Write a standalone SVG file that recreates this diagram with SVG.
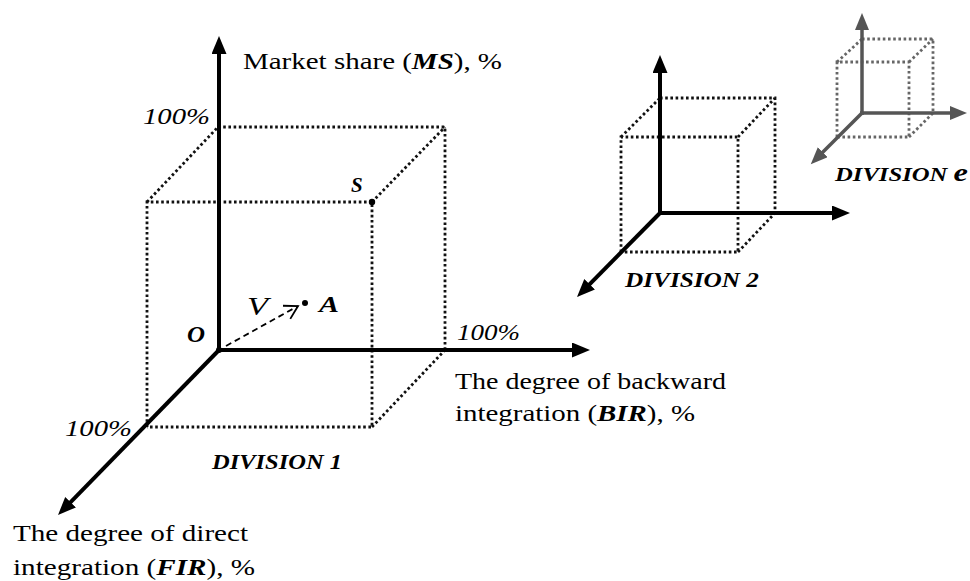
<svg xmlns="http://www.w3.org/2000/svg" width="970" height="581" viewBox="0 0 970 581">
<style>
text{font-family:'Liberation Serif',Tinos,'Times New Roman',Times,serif;fill:#000}
.t{font-size:24px}
.i{font-style:italic}
.bi{font-style:italic;font-weight:bold}
.div{font-size:22px;font-style:italic;font-weight:bold}
.ax{stroke:#000;stroke-width:4;fill:none;marker-end:url(#ah)}
.axg{stroke:#555;stroke-width:3.5;fill:none;marker-end:url(#ahg)}
.dot{stroke:#111;stroke-width:2.8;stroke-dasharray:2.6 2.6;fill:none}
.dotg{stroke:#666;stroke-width:2.8;stroke-dasharray:2.6 2.6;fill:none}
</style>
<defs>
<marker id="ah" markerUnits="userSpaceOnUse" markerWidth="20" markerHeight="16" refX="10" refY="7.5" orient="auto"><path d="M0,0 L18,7.5 L0,15 z" fill="#000"/></marker>
<marker id="ahg" markerUnits="userSpaceOnUse" markerWidth="20" markerHeight="16" refX="10" refY="7" orient="auto"><path d="M0,0 L17,7 L0,14 z" fill="#555"/></marker>
<marker id="oa" markerUnits="userSpaceOnUse" markerWidth="20" markerHeight="20" refX="15" refY="10" orient="auto"><path d="M2,2.5 L15,10 L2,17.5" fill="none" stroke="#000" stroke-width="1.8"/></marker>
</defs>

<g id="division1">
<g id="cube1">
<polyline class="dot" points="218,127 445,127 445,350"/>
<polyline class="dot" points="147,427 147,202 372,202 372,427 147,427"/>
<line class="dot" x1="147" y1="202" x2="218" y2="127"/>
<line class="dot" x1="372" y1="202" x2="445" y2="127"/>
<line class="dot" x1="372" y1="427" x2="445" y2="350"/>
</g>
<circle cx="372" cy="202" r="3.2" fill="#000"/>
<circle cx="219" cy="350" r="3" fill="#000"/>
<circle cx="305" cy="303" r="3" fill="#000"/>
<text class="bi" x="351" y="192" style="font-size:21px">S</text>
<text class="bi" x="187" y="342" style="font-size:24px" textLength="18" lengthAdjust="spacingAndGlyphs">O</text>
<text class="i" x="247" y="315" style="font-size:25px" textLength="21" lengthAdjust="spacingAndGlyphs">V</text>
<text class="bi" x="319" y="312" style="font-size:24px" textLength="20" lengthAdjust="spacingAndGlyphs">A</text>
<text class="i" x="143" y="124" style="font-size:23px" textLength="67" lengthAdjust="spacingAndGlyphs">100%</text>
<text class="i" x="457" y="340" style="font-size:23px" textLength="63" lengthAdjust="spacingAndGlyphs">100%</text>
<text class="i" x="65" y="436" style="font-size:23px" textLength="67" lengthAdjust="spacingAndGlyphs">100%</text>
<text class="t" x="243" y="69" textLength="259" lengthAdjust="spacingAndGlyphs">Market share (<tspan class="bi">MS</tspan>), %</text>
<text class="t" x="455" y="389" textLength="271" lengthAdjust="spacingAndGlyphs">The degree of backward</text>
<text class="t" x="455" y="421" textLength="240" lengthAdjust="spacingAndGlyphs">integration (<tspan class="bi">BIR</tspan>), %</text>
<text class="t" x="13" y="541" textLength="235" lengthAdjust="spacingAndGlyphs">The degree of direct</text>
<text class="t" x="13" y="575" textLength="242" lengthAdjust="spacingAndGlyphs">integration (<tspan class="bi">FIR</tspan>), %</text>
<text class="div" x="212" y="469" textLength="130" lengthAdjust="spacingAndGlyphs">DIVISION 1</text>
</g>

<g id="division2">
<g id="cube2">
<polyline class="dot" points="660,98 775,98 775,213"/>
<polyline class="dot" points="621,252 621,137 738,137 738,252 621,252"/>
<line class="dot" x1="621" y1="137" x2="660" y2="98"/>
<line class="dot" x1="738" y1="137" x2="775" y2="98"/>
<line class="dot" x1="738" y1="252" x2="775" y2="213"/>
</g>
<text class="div" x="625" y="287" textLength="134" lengthAdjust="spacingAndGlyphs">DIVISION 2</text>
</g>

<g id="divisionE">
<g id="cubeE">
<polyline class="dotg" points="862,39 933,39 933,113"/>
<polyline class="dotg" points="837,137 837,62 909,62 909,137 837,137"/>
<line class="dotg" x1="837" y1="62" x2="862" y2="39"/>
<line class="dotg" x1="909" y1="62" x2="933" y2="39"/>
<line class="dotg" x1="909" y1="137" x2="933" y2="113"/>
</g>
<text class="div" x="835" y="181" style="font-size:19px" textLength="133" lengthAdjust="spacingAndGlyphs">DIVISION <tspan style="font-size:25px">e</tspan></text>
</g>

<g id="connectors">
<line class="ax" x1="219" y1="352" x2="219" y2="44"/>
<line class="ax" x1="217" y1="350" x2="582" y2="350"/>
<line class="ax" x1="220" y1="349" x2="63.6" y2="509.3"/>
<line class="ax" x1="660" y1="215" x2="660" y2="63"/>
<line class="ax" x1="658" y1="213" x2="842" y2="213"/>
<line class="ax" x1="661" y1="212" x2="582.6" y2="291.3"/>
<line class="axg" x1="862" y1="115" x2="862" y2="20"/>
<line class="axg" x1="860" y1="113" x2="960" y2="113"/>
<line class="axg" x1="863" y1="112" x2="815.7" y2="159.3"/>
<line x1="226" y1="346" x2="298" y2="306" stroke="#000" stroke-width="1.8" stroke-dasharray="6 4" marker-end="url(#oa)"/>
</g>
</svg>
